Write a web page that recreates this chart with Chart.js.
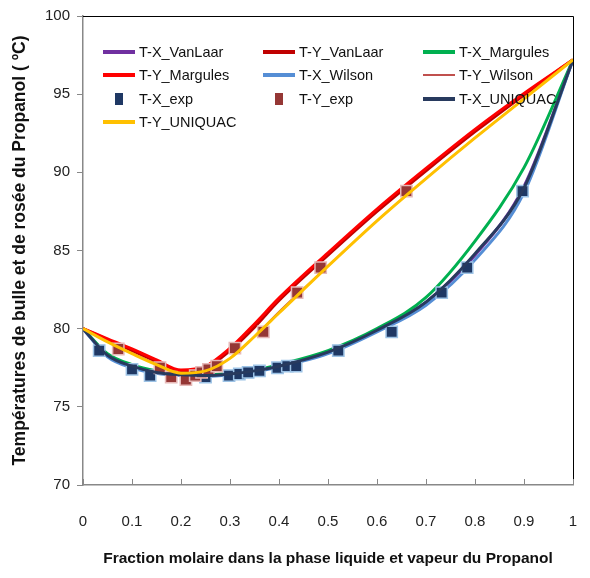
<!DOCTYPE html>
<html lang="fr">
<head>
<meta charset="UTF-8">
<title>Températures de bulle et de rosée</title>
<script src="https://cdn.jsdelivr.net/npm/chart.js"></script>
<style>
  body { margin: 0; background: #fff; }
  #wrap { position: relative; width: 590px; height: 578px; }
  #legend {
    position: absolute; left: 103px; top: 42px; width: 480px;
    font: 14.5px "Liberation Sans", sans-serif; color: #111;
    display: grid; grid-template-columns: 160px 160px 160px; row-gap: 4px;
  }
  .item { display: flex; align-items: center; height: 19.5px; white-space: nowrap; }
  .sym { width: 32px; height: 12px; position: relative; margin-right: 4px; }
  .sym .ln { position: absolute; left: 0; right: 0; top: 50%; transform: translateY(-50%); }
  .sym .sq { position: absolute; left: 12px; top: 0; width: 8px; height: 12px; }
</style>
</head>
<body>
<div id="wrap">
  <canvas id="chart" width="590" height="578"></canvas>
  <div id="legend"></div>
</div>
<script>
// grille commune des modèles
const xModel = [0, 0.05, 0.1, 0.15, 0.2, 0.25, 0.3, 0.35, 0.4, 0.5, 0.6, 0.7, 0.8, 0.9, 1];

const txVanLaar  = [80, 78.3, 77.6, 77.25, 77.05, 77.0, 77.1, 77.3, 77.6, 78.5, 79.9, 81.7, 84.7, 89.1, 97.2];
const tyVanLaar  = [80, 79.3, 78.6, 77.9, 77.3, 77.5, 78.6, 80.1, 81.8, 84.7, 87.5, 90.1, 92.6, 94.95, 97.2];
const txMargules = [80, 78.4, 77.7, 77.3, 77.1, 77.05, 77.15, 77.35, 77.7, 78.6, 80.0, 82.0, 85.6, 90.3, 97.2];
const tyMargules = [80, 79.35, 78.7, 78.0, 77.35, 77.6, 78.75, 80.3, 81.95, 84.85, 87.65, 90.25, 92.75, 95.05, 97.2];
const txWilson   = [80, 78.2, 77.5, 77.15, 77.0, 76.95, 77.05, 77.25, 77.55, 78.4, 79.8, 81.5, 84.4, 88.7, 97.2];
const tyWilson   = [80, 79.2, 78.45, 77.75, 77.2, 77.3, 78.1, 79.5, 81.1, 84.0, 86.9, 89.6, 92.2, 94.7, 97.2];
const txUniquac  = [80, 78.3, 77.6, 77.2, 77.05, 77.0, 77.1, 77.3, 77.6, 78.5, 79.9, 81.7, 84.8, 89.0, 97.2];
const tyUniquac  = [80, 79.15, 78.4, 77.7, 77.15, 77.3, 78.1, 79.5, 81.0, 84.0, 86.9, 89.6, 92.2, 94.7, 97.2];

// points expérimentaux
const xExpX = [0.033, 0.1, 0.137, 0.25, 0.298, 0.319, 0.337, 0.36, 0.397, 0.417, 0.435, 0.521, 0.63, 0.732, 0.784, 0.897];
const tExpX = [78.6, 77.4, 77.0, 76.9, 77.0, 77.1, 77.2, 77.3, 77.5, 77.6, 77.6, 78.6, 79.8, 82.3, 83.9, 88.8];
const xExpY = [0.072, 0.157, 0.18, 0.21, 0.229, 0.242, 0.256, 0.273, 0.31, 0.368, 0.437, 0.485, 0.66];
const tExpY = [78.7, 77.5, 76.9, 76.75, 77.0, 77.2, 77.4, 77.6, 78.75, 79.8, 82.3, 83.9, 88.8];

const xTicks = [0, 0.1, 0.2, 0.3, 0.4, 0.5, 0.6, 0.7, 0.8, 0.9, 1];

function pts(xs, ys) { return xs.map((x, i) => ({ x: x, y: ys[i] })); }

function curve(label, ys, color, width) {
    return {
        label: label, data: pts(xModel, ys), showLine: true,
        borderColor: color, backgroundColor: color, borderWidth: width || 3,
        pointRadius: 0, cubicInterpolationMode: 'monotone'
    };
}
function markers(label, xs, ys, fill, edge) {
    return {
        label: label, data: pts(xs, ys), showLine: false,
        pointStyle: 'rect', pointRadius: 8, borderWidth: 1.5,
        backgroundColor: fill, borderColor: edge
    };
}

const datasets = [
    curve('T-X_VanLaar', txVanLaar, '#7030A0'),
    curve('T-Y_VanLaar', tyVanLaar, '#C00000'),
    curve('T-X_Margules', txMargules, '#00B050'),
    curve('T-Y_Margules', tyMargules, '#FF0000'),
    curve('T-X_Wilson', txWilson, '#558ED5'),
    curve('T-Y_Wilson', tyWilson, '#C0504D', 1.5),
    markers('T-X_exp', xExpX, tExpX, '#1F3864', '#9DC3E6'),
    markers('T-Y_exp', xExpY, tExpY, '#953735', '#E6B9B8'),
    curve('T-X_UNIQUAC', txUniquac, '#283A5E'),
    curve('T-Y_UNIQUAC', tyUniquac, '#FFC000')
];
// ordre de tracé comme Excel : la dernière série au-dessus
datasets.forEach((d, i) => { d.order = datasets.length - i; });

// légende HTML dans la zone du graphe
const legend = document.getElementById('legend');
datasets.forEach(d => {
    const item = document.createElement('div');
    item.className = 'item';
    const sym = document.createElement('span');
    sym.className = 'sym';
    if (d.showLine) {
        const ln = document.createElement('span');
        ln.className = 'ln';
        ln.style.height = (d.borderWidth >= 3 ? 4 : 2) + 'px';
        ln.style.background = d.borderColor;
        sym.appendChild(ln);
    } else {
        const sq = document.createElement('span');
        sq.className = 'sq';
        sq.style.background = d.backgroundColor;
        sym.appendChild(sq);
    }
    item.appendChild(sym);
    item.appendChild(document.createTextNode(d.label));
    legend.appendChild(item);
});

const frame = {
    id: 'frame',
    afterDraw(chart) {
        const { ctx, chartArea: a, scales } = chart;
        ctx.save();
        ctx.strokeStyle = '#000';
        ctx.lineWidth = 1;
        ctx.beginPath();
        ctx.moveTo(a.left, a.top + 0.5); ctx.lineTo(a.right + 0.5, a.top + 0.5);
        ctx.lineTo(a.right + 0.5, a.bottom);
        ctx.stroke();
        // graduations de l'axe X vers l'intérieur
        ctx.strokeStyle = '#888';
        ctx.beginPath();
        xTicks.forEach(v => {
            const px = Math.round(scales.x.getPixelForValue(v)) + 0.5;
            ctx.moveTo(px, a.bottom); ctx.lineTo(px, a.bottom - 6);
        });
        ctx.stroke();
        ctx.restore();
    }
};

new Chart(document.getElementById('chart'), {
    type: 'scatter',
    data: { datasets: datasets },
    options: {
        responsive: false, animation: false,
        layout: { padding: { top: 9, right: 17, left: 0, bottom: 0 } },
        plugins: { legend: { display: false }, tooltip: { enabled: false } },
        scales: {
            x: {
                type: 'linear', min: 0, max: 1,
                afterBuildTicks: s => { s.ticks = xTicks.map(v => ({ value: v })); },
                afterFit: s => { s.height = 93; s.paddingRight = 0; s.paddingLeft = 0; },
                grid: { drawOnChartArea: false, drawTicks: false, color: '#888' },
                border: { color: '#888', width: 1.5 },
                ticks: {
                    padding: 28, color: '#222',
                    font: { family: '"Liberation Sans", sans-serif', size: 15 },
                    callback: v => String(v)
                },
                title: {
                    display: true, color: '#111',
                    text: 'Fraction molaire dans la phase liquide et vapeur du Propanol',
                    font: { family: '"Liberation Sans", sans-serif', size: 15.5, weight: 'bold' },
                    padding: { top: 0, bottom: 10 }
                }
            },
            y: {
                min: 70, max: 100,
                ticks: {
                    stepSize: 5, padding: 7, color: '#222',
                    font: { family: '"Liberation Sans", sans-serif', size: 15 }
                },
                afterFit: s => { s.width = 83; },
                grid: { drawOnChartArea: false, tickLength: 6, color: '#888' },
                border: { color: '#888', width: 1.5 },
                title: {
                    display: true, color: '#111',
                    text: 'Températures de bulle et de rosée du Propanol ( ºC)',
                    font: { family: '"Liberation Sans", sans-serif', size: 17.5, weight: 'bold' },
                    padding: { top: 10, bottom: 4 }
                }
            }
        }
    },
    plugins: [frame]
});
</script>
</body>
</html>
